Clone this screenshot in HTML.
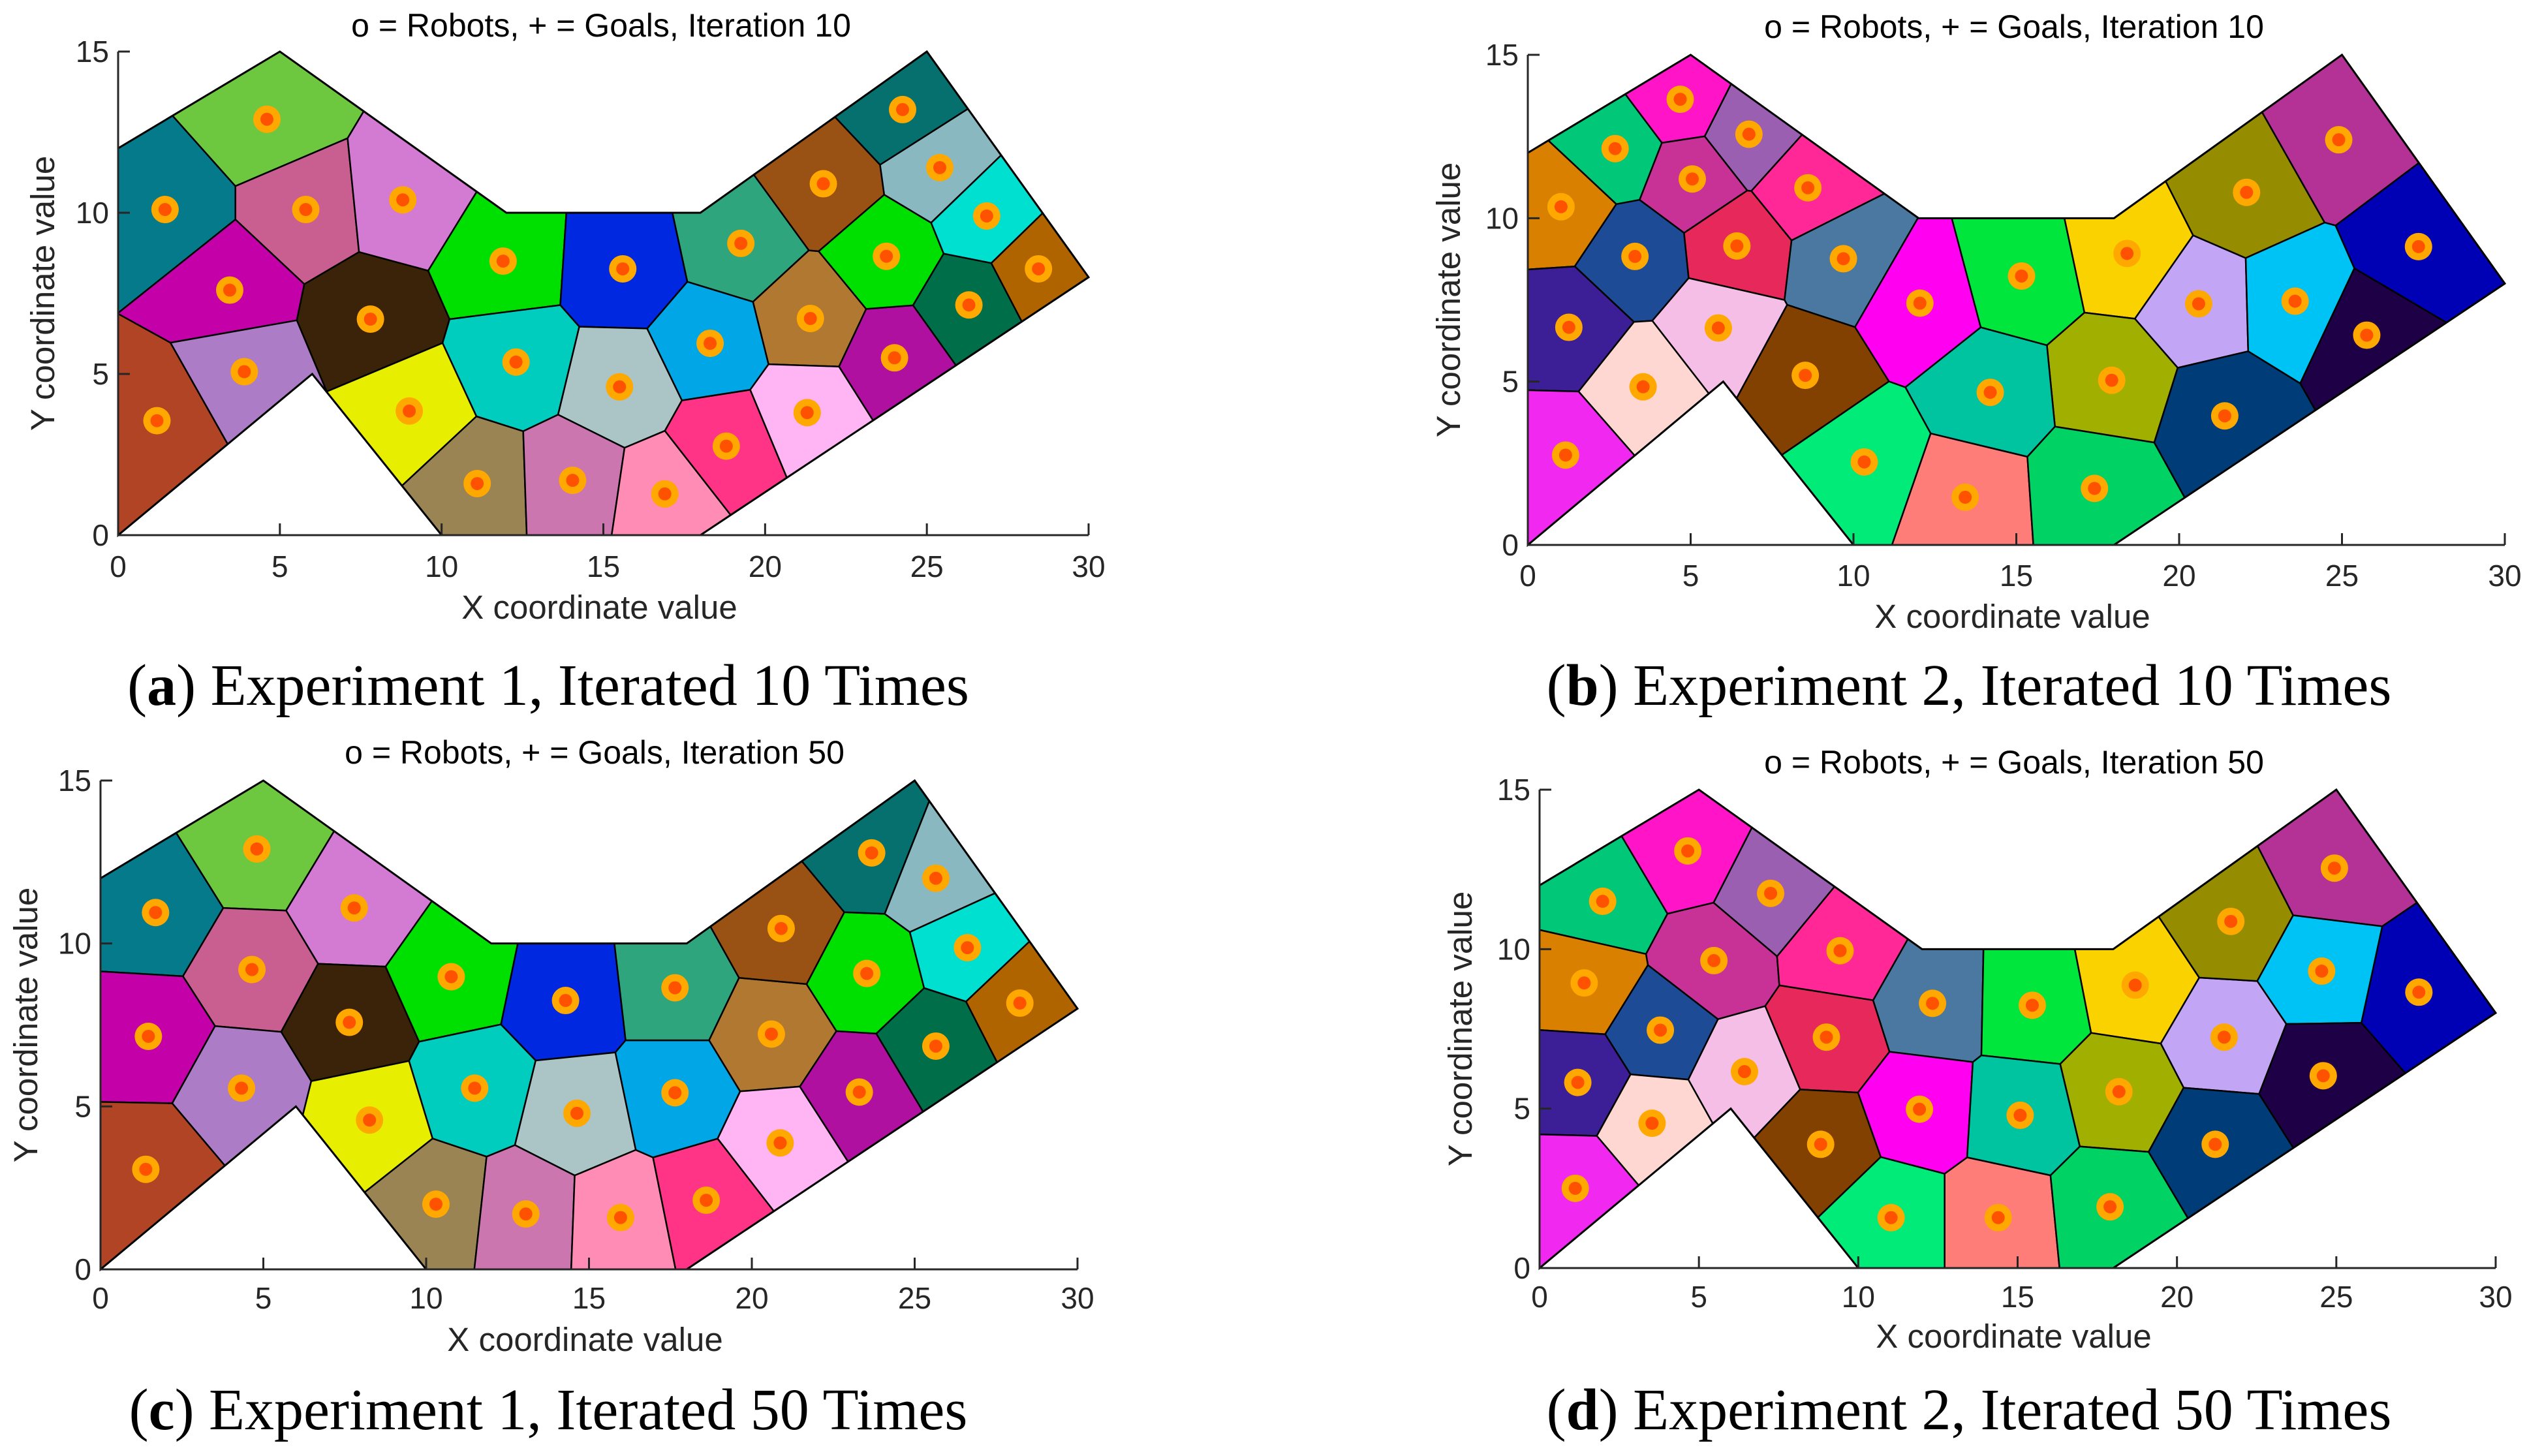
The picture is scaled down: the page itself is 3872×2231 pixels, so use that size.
<!DOCTYPE html>
<html><head><meta charset="utf-8">
<style>
html,body{margin:0;padding:0;background:#fff;}
svg{display:block;}
.tk{font-family:"Liberation Sans",sans-serif;font-size:46px;fill:#262626;}
.al{font-family:"Liberation Sans",sans-serif;font-size:51px;fill:#262626;}
.ttl{font-family:"Liberation Sans",sans-serif;font-size:50px;fill:#000;}
.cap{font-family:"Liberation Serif",serif;font-size:90px;fill:#000;}
</style></head>
<body>
<svg id="fig" width="3872" height="2231" viewBox="0 0 3872 2231" xmlns="http://www.w3.org/2000/svg"></svg>
<script>
// Domain boundary (data units)
const domainX = [0,0,5,12,18,25,30,18,10,6];
const domainY = [0,12,15,10,10,15,8,0,0,5];
const xTicks = [0,5,10,15,20,25,30];
const yTicks = [0,5,10,15];

// Experiment 1, iteration 10
const robotsAX = [1.45,4.6,5.8,8.8,3.45,7.8,3.9,1.2,11.9,15.6,12.3,15.5,9.0,11.1,14.05,16.9,18.8,18.3,19.25,21.4,21.3,24.0,23.75,21.8,24.25,25.4,26.85,26.3,28.45];
const robotsAY = [10.1,12.9,10.1,10.4,7.6,6.7,5.07,3.55,8.5,8.26,5.37,4.6,3.85,1.6,1.7,1.28,2.76,5.95,9.05,6.72,3.8,5.5,8.65,10.9,13.2,11.4,9.9,7.14,8.26];
// Experiment 1, iteration 50
const robotsCX = [1.69,4.8,4.65,7.79,1.47,7.64,4.33,1.39,10.77,14.28,11.49,14.63,8.26,10.3,13.06,15.97,18.6,17.64,17.64,20.6,20.87,23.3,23.53,20.9,23.68,25.65,26.62,25.65,28.23];
const robotsCY = [10.95,12.9,9.2,11.09,7.15,7.58,5.56,3.07,8.98,8.25,5.56,4.79,4.58,2.0,1.7,1.59,2.12,5.42,8.64,7.22,3.88,5.44,9.08,10.46,12.78,12.0,9.87,6.85,8.17];
const colors1 = ["#047a8a","#6dc83f","#c95f91","#d37ad3","#c400a8","#3a2308","#ac7cc6","#b04424","#00e000","#0028e0","#00cdbe","#abc4c6","#e8ee00","#9a8454","#cc76b0","#ff8cb4","#ff3486","#00a6e6","#2ea57c","#b07830","#ffb4f4","#b010a0","#00e000","#9a5214","#06706e","#8ab8c0","#00e0d0","#006e48","#b06400"];

// Experiment 2, iteration 10
const robotsBX = [4.68,6.79,2.68,5.05,8.6,1.02,3.29,6.42,9.69,1.26,5.85,12.04,15.16,18.4,20.6,22.07,24.9,27.35,23.56,25.76,17.93,14.2,8.52,3.54,1.16,10.33,13.43,17.4,21.4];
const robotsBY = [13.64,12.57,12.13,11.2,10.93,10.35,8.83,9.15,8.76,6.66,6.64,7.4,8.23,8.92,7.38,10.79,12.4,9.13,7.46,6.42,5.04,4.67,5.19,4.84,2.75,2.54,1.46,1.73,3.95];
// Experiment 2, iteration 50
const robotsDX = [4.65,7.25,1.98,5.47,9.43,1.4,3.79,9.0,12.33,1.2,6.43,11.92,15.46,18.69,21.48,21.69,24.94,27.59,24.54,24.59,18.18,15.08,8.82,3.53,1.12,11.03,14.39,17.9,21.2];
const robotsDY = [13.08,11.75,11.5,9.64,9.95,8.94,7.46,7.24,8.3,5.82,6.16,4.98,8.24,8.87,7.24,10.87,12.54,8.65,9.31,6.03,5.53,4.79,3.88,4.54,2.5,1.58,1.58,1.92,3.88];
const colors2 = ["#ff14c8","#9a5fb0","#00c878","#c83296","#ff2896","#d98000","#1e4b96","#e6285a","#4b78a0","#3c1e96","#f5bee6","#ff00f0","#00e63c","#fad200","#c3a5f5","#968c00","#b43296","#0000b4","#00c3f5","#1e0046","#a0af00","#00c3a0","#824100","#ffd7d2","#f028f0","#00eb78","#ff7d78","#00d264","#003c78"];

const titles = ["o = Robots, + = Goals, Iteration 10","o = Robots, + = Goals, Iteration 10","o = Robots, + = Goals, Iteration 50","o = Robots, + = Goals, Iteration 50"];
const capLetters = ["a","b","c","d"];
const capTexts = [" Experiment 1, Iterated 10 Times"," Experiment 2, Iterated 10 Times"," Experiment 1, Iterated 50 Times"," Experiment 2, Iterated 50 Times"];

const NS = "http://www.w3.org/2000/svg";
const svg = document.getElementById("fig");
function mk(tag, attrs, parent){
  const e = document.createElementNS(NS, tag);
  for (const k in attrs) e.setAttribute(k, attrs[k]);
  (parent||svg).appendChild(e);
  return e;
}

function clip(poly, nx, ny, c){ // keep nx*x+ny*y <= c
  const out = [];
  for (let i=0;i<poly.length;i++){
    const a = poly[i], b = poly[(i+1)%poly.length];
    const da = nx*a[0]+ny*a[1]-c, db = nx*b[0]+ny*b[1]-c;
    if (da<=0) out.push(a);
    if ((da<0&&db>0)||(da>0&&db<0)){
      const t = da/(da-db);
      out.push([a[0]+t*(b[0]-a[0]), a[1]+t*(b[1]-a[1])]);
    }
  }
  return out;
}

const panels = [
  {x0:181,x1:1668,y0:820,y1:79, rx:robotsAX, ry:robotsAY, col:colors1, tx:921,ty:56, ylx:66, xly:948, tly:884, cx:840,cy:1080, name:"panel-a"},
  {x0:2341,x1:3838,y0:835,y1:84, rx:robotsBX, ry:robotsBY, col:colors2, tx:3086,ty:58, ylx:2220, xly:962, tly:898, cx:3017,cy:1080, name:"panel-b"},
  {x0:154,x1:1651,y0:1945,y1:1196, rx:robotsCX, ry:robotsCY, col:colors1, tx:911,ty:1170, ylx:40, xly:2070, tly:2005, cx:840,cy:2190, name:"panel-c"},
  {x0:2359,x1:3824,y0:1943,y1:1210, rx:robotsDX, ry:robotsDY, col:colors2, tx:3086,ty:1185, ylx:2238, xly:2065, tly:2003, cx:3017,cy:2190, name:"panel-d"}
];

panels.forEach((P, pi) => {
  const g = mk("g", {});
  
  
  const sx = v => P.x0 + (P.x1-P.x0)*v/30;
  const sy = v => P.y0 + (P.y1-P.y0)*v/15;
  const dom = domainX.map((x,i)=>[x,domainY[i]]);
  const cg = mk("g", {}, g);
  
  
  for (let i=0;i<P.rx.length;i++){
    let poly = dom.slice();
    for (let j=0;j<P.rx.length;j++){
      if (i===j) continue;
      const nx = P.rx[j]-P.rx[i], ny = P.ry[j]-P.ry[i];
      const mx = (P.rx[j]+P.rx[i])/2, my = (P.ry[j]+P.ry[i])/2;
      poly = clip(poly, nx, ny, nx*mx+ny*my);
      if (!poly.length) break;
    }
    if (poly.length<3) continue;
    const pts = poly.map(p=>sx(p[0]).toFixed(1)+","+sy(p[1]).toFixed(1)).join(" ");
    const c = mk("polygon", {points:pts, fill:P.col[i], stroke:"#000", "stroke-width":"2.5", "stroke-linejoin":"round"}, cg);
    
    
  }
  const ol = mk("polygon", {points: dom.map(p=>sx(p[0])+","+sy(p[1])).join(" "), fill:"none", stroke:"#000", "stroke-width":"3"}, g);
  
  
  for (let i=0;i<P.rx.length;i++){
    const r = mk("circle", {cx:sx(P.rx[i]), cy:sy(P.ry[i]), r:21, fill:"#ffa800"}, g);
    
    
    const gl = mk("circle", {cx:sx(P.rx[i]), cy:sy(P.ry[i]), r:10, fill:"#ff5200"}, g);
    
    
  }
  const ax = mk("path", {d:`M${P.x0},${sy(15)} V${P.y0} H${P.x1}`, fill:"none", stroke:"#262626", "stroke-width":"3"}, g);
  
  
  xTicks.forEach(v=>{
    mk("line",{x1:sx(v),x2:sx(v),y1:P.y0,y2:P.y0-18,stroke:"#262626","stroke-width":"3"},g);
    const t = mk("text",{x:sx(v),y:P.tly,"text-anchor":"middle",class:"tk"},g);
    t.textContent = v;
    
    
  });
  yTicks.forEach(v=>{
    mk("line",{x1:P.x0,x2:P.x0+18,y1:sy(v),y2:sy(v),stroke:"#262626","stroke-width":"3"},g);
    const t = mk("text",{x:P.x0-14,y:sy(v)+16,"text-anchor":"end",class:"tk"},g);
    t.textContent = v;
    
    
  });
  const xl = mk("text",{x:(P.x0+P.x1)/2 - 6,y:P.xly,"text-anchor":"middle",class:"al"},g);
  xl.textContent = "X coordinate value";
  
  
  const ymid = (P.y0+P.y1)/2;
  const yl = mk("text",{x:P.ylx,y:ymid,"text-anchor":"middle",class:"al",transform:`rotate(-90 ${P.ylx} ${ymid})`,dy:"17"},g);
  yl.textContent = "Y coordinate value";
  
  
  const tt = mk("text",{x:P.tx,y:P.ty,"text-anchor":"middle",class:"ttl"},g);
  tt.textContent = titles[pi];
  
  
  const cp = mk("text",{x:P.cx,y:P.cy,"text-anchor":"middle",class:"cap"},g);
  
  
  const t1 = mk("tspan",{},cp); t1.textContent = "(";
  const t2 = mk("tspan",{"font-weight":"bold"},cp); t2.textContent = capLetters[pi];
  const t3 = mk("tspan",{},cp); t3.textContent = ")" + capTexts[pi];
});
</script>
</body></html>
